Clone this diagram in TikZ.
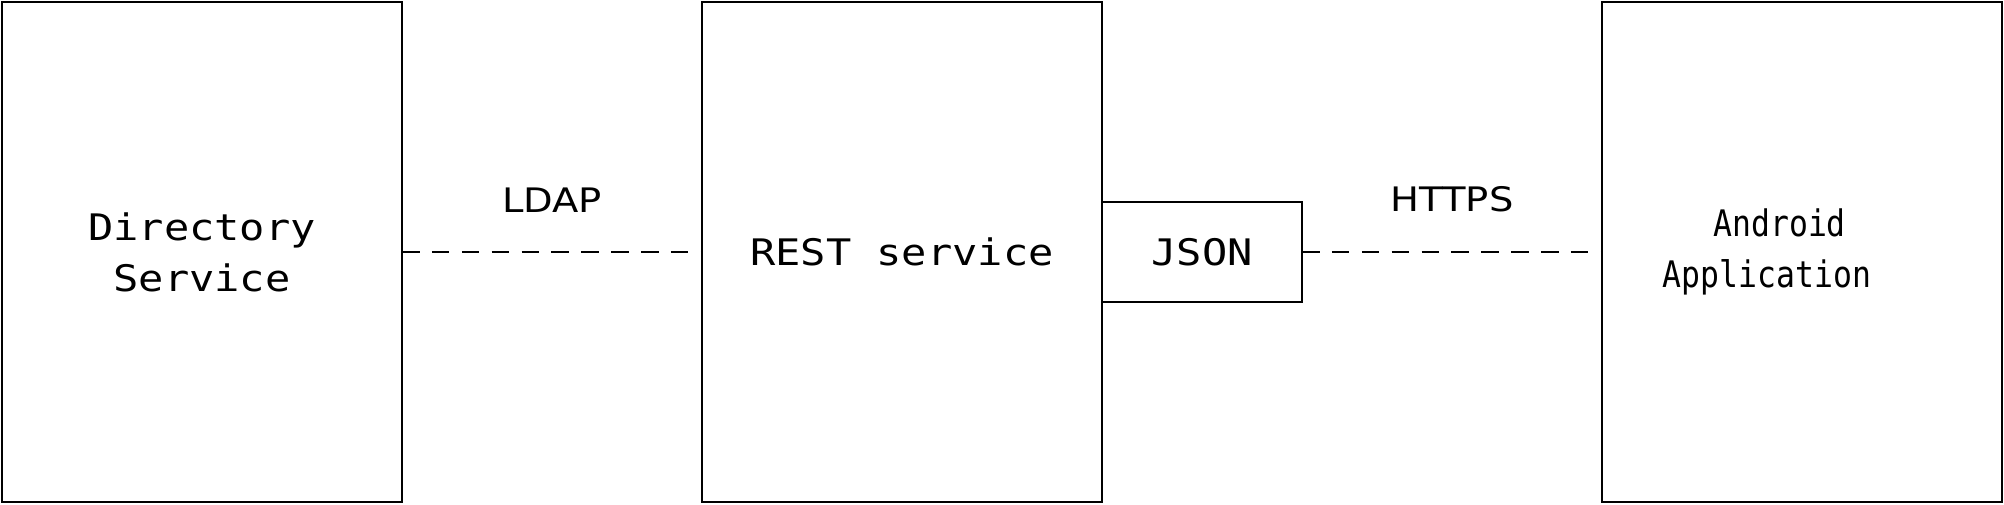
\documentclass[tikz,border=0pt]{standalone}
\usepackage{fontspec}
\usepackage{calc}
\newfontfamily\boxfont[FakeStretch=1.15]{DejaVu Sans Mono}
\newfontfamily\narrowfont[FakeStretch=0.86]{DejaVu Sans Mono}
\newfontfamily\linkfont[FakeStretch=1.14]{DejaVu Sans}
\newcommand{\squeezed}[1]{\makebox[\widthof{\boxfont #1}][l]{\narrowfont #1}}
\usetikzlibrary{positioning}

\begin{document}
\begin{tikzpicture}[node distance=3cm,auto,line width=0.57pt,
  block/.style={draw,rectangle,outer sep=0pt,minimum width=4cm,minimum height=5cm,
    align=center,font=\boxfont\fontsize{10.4}{14.5}\selectfont},
  fmt/.style={block,minimum width=2cm,minimum height=1cm},
  link/.style={dash pattern=on 5pt off 3.5pt},
  lbl/.style={font=\linkfont\fontsize{9.6}{12}\selectfont,yshift=7.7pt}]
 % \draw[help lines] (0,0) grid (20,5);
  \useasboundingbox (0,0) rectangle (20.04,5.04);
  \node[block] (dir)  at (2.02,2.52) {Directory\\Service};
  \node[block] (rest) [right=of dir] {REST service};
  \node[fmt]   (json) [right=0pt of rest] {JSON};
  \node[block] (app)  [right=of json] {\squeezed{Android}\\\squeezed{Application}};
  \path[link] (dir)  edge node[lbl] {LDAP} (rest)
              (json) edge node[lbl] {HTTPS} (app);
\end{tikzpicture}
\end{document}
